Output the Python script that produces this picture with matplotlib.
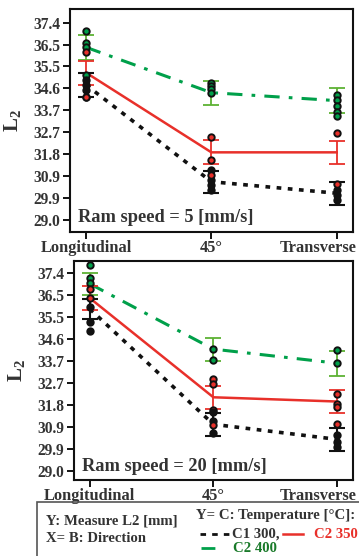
import matplotlib
matplotlib.use("Agg")
import matplotlib.pyplot as plt
from matplotlib.patches import Rectangle
from matplotlib.lines import Line2D
import matplotlib.transforms as mtransforms
import numpy as np

plt.rcParams['font.family'] = ['Liberation Serif', 'DejaVu Serif']
plt.rcParams['font.weight'] = 'bold'
plt.rcParams['mathtext.fontset'] = 'custom'
plt.rcParams['mathtext.bf'] = 'Liberation Serif:bold'
plt.rcParams['mathtext.rm'] = 'Liberation Serif:bold'
plt.rcParams['mathtext.it'] = 'Liberation Serif:bold'

directions = ["Longitudinal", "45°", "Transverse"]
ytick_labels = ["29.0", "29.9", "30.9", "31.8", "32.7", "33.7", "34.6", "35.5", "36.5", "37.4"]
series_names = ["C1 300", "C2 350", "C2 400"]

# Ram speed = 5 mm/s
means_5_c1 = [34.75, 30.63, 30.14]
means_5_c2_350 = [35.27, 31.88, 31.88]
means_5_c2_400 = [36.35, 34.42, 34.08]
err_5_c1 = [0.51, 0.47, 0.49]
err_5_c2_350 = [0.51, 0.51, 0.50]
err_5_c2_400 = [0.52, 0.51, 0.54]
obs_5_c1 = [[34.96, 34.75, 34.53], [31.13, 30.70, 30.49, 30.27], [30.27, 30.07, 29.85]]
obs_5_c1_redcenter = [[34.25], [30.91], [30.52]]
obs_5_c2_350 = [[36.17, 34.25], [32.55, 31.56], [32.69]]
obs_5_c2_400 = [[37.05, 36.52, 36.38, 35.17], [34.85, 34.71, 34.57, 34.42], [34.32, 34.11, 33.85, 33.61, 33.43]]

# Ram speed = 20 mm/s
means_20_c1 = [35.88, 30.97, 30.33]
means_20_c2_350 = [36.34, 32.12, 31.94]
means_20_c2_400 = [36.95, 34.17, 33.57]
err_20_c1 = [0.44, 0.49, 0.48]
err_20_c2_350 = [0.51, 0.50, 0.49]
err_20_c2_400 = [0.47, 0.49, 0.53]
obs_20_c1 = [[35.98, 35.34, 34.92], [31.51, 31.09, 30.59], [30.52, 30.23, 30.02]]
obs_20_c1_redcenter = [[], [30.94], [30.97]]
obs_20_c2_350 = [[36.73, 36.34], [32.89, 32.69, 31.58], [32.26, 31.84, 31.70]]
obs_20_c2_400 = [[37.75, 37.19, 36.97], [34.17, 33.71], [34.14, 33.57]]

BLACK = "#111111"
RED = "#E8302A"
GREEN = "#00A04A"
GREEN_EB = "#5DB234"
TXT = "#333333"

W, H = 359, 556
fig = plt.figure(figsize=(W / 100, H / 100), dpi=100)

def px_axes(l, t, r, b):
    return fig.add_axes([l / W, 1 - b / H, (r - l) / W, (b - t) / H])

ax1 = px_axes(70, 9, 353, 232)
ax2 = px_axes(74, 261, 353, 480)

yticks = [float(s) for s in ytick_labels]
yticks_pos = np.linspace(yticks[0], yticks[-1], len(yticks))

def draw(ax, m1, m2, m3, e1, e2, e3, o1, o1r, o2, o3, label, ylim):
    x = np.arange(len(directions))
    for i in range(len(directions)):
        for vals, fc in ((o3[i], GREEN), (o2[i], RED), (o1[i], BLACK), (o1r[i], RED)):
            if vals:
                ax.plot([x[i]] * len(vals), vals, 'o', ms=4.6, mfc=fc, mec=BLACK,
                        mew=1.4, zorder=4, linestyle='none')
    ax.errorbar(x, m3, yerr=e3, fmt='none', ecolor=GREEN_EB, elinewidth=1.3, capsize=5.5, capthick=1.3, zorder=3)
    ax.errorbar(x, m2, yerr=e2, fmt='none', ecolor=RED, elinewidth=1.3, capsize=5.5, capthick=1.3, zorder=3)
    ax.errorbar(x, m1, yerr=e1, fmt='none', ecolor=BLACK, elinewidth=1.5, capsize=5.5, capthick=1.5, zorder=3)
    ax.plot(x, m3, color=GREEN, lw=2.2, linestyle=(0, (5, 3, 1.2, 3)), zorder=2)
    ax.plot(x, m2, color=RED, lw=1.8, linestyle='-', zorder=2)
    ax.plot(x, m1, color=BLACK, lw=2.6, linestyle=(0, (1.3, 1.8)), zorder=2)

    ax.set_xlim(-0.128, 2.13)
    ax.set_ylim(*ylim)
    ax.set_xticks(x)
    ax.set_xticklabels(directions, fontsize=11.8, fontweight='bold', color=TXT)
    ax.set_yticks(yticks_pos)
    ax.set_yticklabels(ytick_labels, fontsize=11.2, fontweight='bold', color=TXT)
    ax.tick_params(axis='both', direction='out', length=5, width=1.3, pad=2)
    ax.tick_params(axis='x', pad=1)
    last = ax.get_xticklabels()[-1]
    last.set_horizontalalignment('right')
    last.set_transform(last.get_transform() + mtransforms.ScaledTranslation(20 / 100, 0, fig.dpi_scale_trans))
    for s in ax.spines.values():
        s.set_linewidth(1.5)
        s.set_color(BLACK)
    ax.set_ylabel(r'L$_2$', fontsize=15, labelpad=4, color=TXT, fontweight='bold')
    ax.text(0.03, 0.025, label, transform=ax.transAxes, fontsize=13.2,
            fontweight='bold', color=TXT, va='bottom', ha='left')

draw(ax1, means_5_c1, means_5_c2_350, means_5_c2_400, err_5_c1, err_5_c2_350, err_5_c2_400,
     obs_5_c1, obs_5_c1_redcenter, obs_5_c2_350, obs_5_c2_400, "Ram speed = 5 [mm/s]", (28.49, 37.98))
draw(ax2, means_20_c1, means_20_c2_350, means_20_c2_400, err_20_c1, err_20_c2_350, err_20_c2_400,
     obs_20_c1, obs_20_c1_redcenter, obs_20_c2_350, obs_20_c2_400, "Ram speed = 20 [mm/s]", (28.6, 37.92))
ax1.yaxis.set_label_coords(-47 / 283, 0.5)
ax2.yaxis.set_label_coords(-47 / 279, 0.5)

def fx(px):
    return px / W

def fy(py):
    return 1 - py / H

fig.patches.append(Rectangle((fx(37), fy(570)), fx(340), fy(502) - fy(570), transform=fig.transFigure,
                             fill=False, edgecolor='#555555', lw=1.2, clip_on=False))
tkw = dict(fontsize=10.6, fontweight='bold', va='center', ha='left', color=TXT)
fig.text(fx(46), fy(521), "Y: Measure L2 [mm]", **tkw)
fig.text(fx(46), fy(539), "X= B: Direction", **tkw)
fig.text(fx(196), fy(516), "Y= C: Temperature [°C]:", **tkw)
fig.lines.append(Line2D([fx(200), fx(229)], [fy(534), fy(534)], transform=fig.transFigure,
                        color=BLACK, lw=2.0, linestyle=(0, (2, 2.2))))
fig.text(fx(232), fy(534), series_names[0] + ",", **tkw)
fig.lines.append(Line2D([fx(283), fx(303)], [fy(534), fy(534)], transform=fig.transFigure,
                        color=RED, lw=1.8))
fig.text(fx(314), fy(534), series_names[1], **dict(tkw, color=RED))
fig.lines.append(Line2D([fx(201), fx(222)], [fy(548), fy(548)], transform=fig.transFigure,
                        color=GREEN, lw=2.0, linestyle=(0, (5, 3, 1.2, 3))))
fig.text(fx(233), fy(548), series_names[2], **dict(tkw, color='#1A7A2A'))

fig.savefig("out.png", dpi=100)
